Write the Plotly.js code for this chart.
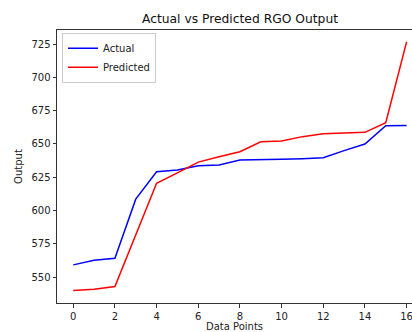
<!DOCTYPE html>
<html>
<head>
<meta charset="utf-8">
<script src="https://cdn.plot.ly/plotly-3.0.1.min.js"></script>
<style>html,body{margin:0;padding:0;background:#fff;overflow:hidden}</style>
</head>
<body>
<div id="chart" style="width:412px;height:332px"></div>
<script>
const xIndex = [0,1,2,3,4,5,6,7,8,9,10,11,12,13,14,15,16];
const actual = [559.3,562.8,564.2,608.6,629.2,630.5,633.7,634.2,638.0,638.1,638.5,639.0,639.7,645.0,650.0,663.7,663.8];
const predicted = [540.1,541.0,543.1,581.8,620.5,628.3,636.4,640.4,644.2,651.7,652.2,655.5,657.7,658.2,658.7,666.0,726.6];
const xTicks = [0,2,4,6,8,10,12,14,16];
const yTicks = [550,575,600,625,650,675,700,725];

const traces = [
  {x: xIndex, y: actual, type: 'scatter', mode: 'lines', name: 'Actual',
   line: {color: '#0000ff', width: 1.5}},
  {x: xIndex, y: predicted, type: 'scatter', mode: 'lines', name: 'Predicted',
   line: {color: '#ff0000', width: 1.5}}
];

const axisFont = {family: 'DejaVu Sans', size: 10, color: '#222'};
const layout = {
  width: 412, height: 332,
  margin: {l: 57, r: 0, t: 30, b: 29, pad: 0},
  paper_bgcolor: '#fff', plot_bgcolor: '#fff',
  font: {family: 'DejaVu Sans', size: 10, color: '#222'},
  title: {text: 'Actual vs Predicted RGO Output', font: {family: 'DejaVu Sans', size: 12.3, color: '#111'},
          x: 240/412, xanchor: 'center', y: 1 - 19/332, yanchor: 'middle'},
  xaxis: {range: [-0.78, 16.26], tickvals: xTicks, ticktext: xTicks.map(String),
          showgrid: false, zeroline: false, showline: true, linecolor: '#333', linewidth: 1,
          mirror: true, ticks: 'outside', ticklen: 3.5, tickcolor: '#333', tickwidth: 1,
          tickfont: axisFont, ticklabeloverflow: 'allow',
          title: {text: 'Data Points', font: axisFont, standoff: 3}},
  yaxis: {range: [530.7, 735.5], tickvals: yTicks, ticktext: yTicks.map(String),
          showgrid: false, zeroline: false, showline: true, linecolor: '#333', linewidth: 1,
          ticks: 'outside', ticklen: 3.5, tickcolor: '#333', tickwidth: 1,
          tickfont: axisFont,
          title: {text: 'Output', font: axisFont, standoff: 6}},
  showlegend: true,
  legend: {x: 0.014, y: 0.99, xanchor: 'left', yanchor: 'top',
           bgcolor: 'rgba(255,255,255,0.8)', bordercolor: '#ccc', borderwidth: 1,
           font: {family: 'DejaVu Sans', size: 10, color: '#222'},
           itemwidth: 30, tracegroupgap: 0}
};

Plotly.newPlot('chart', traces, layout, {displayModeBar: false, staticPlot: true});
</script>
</body>
</html>
